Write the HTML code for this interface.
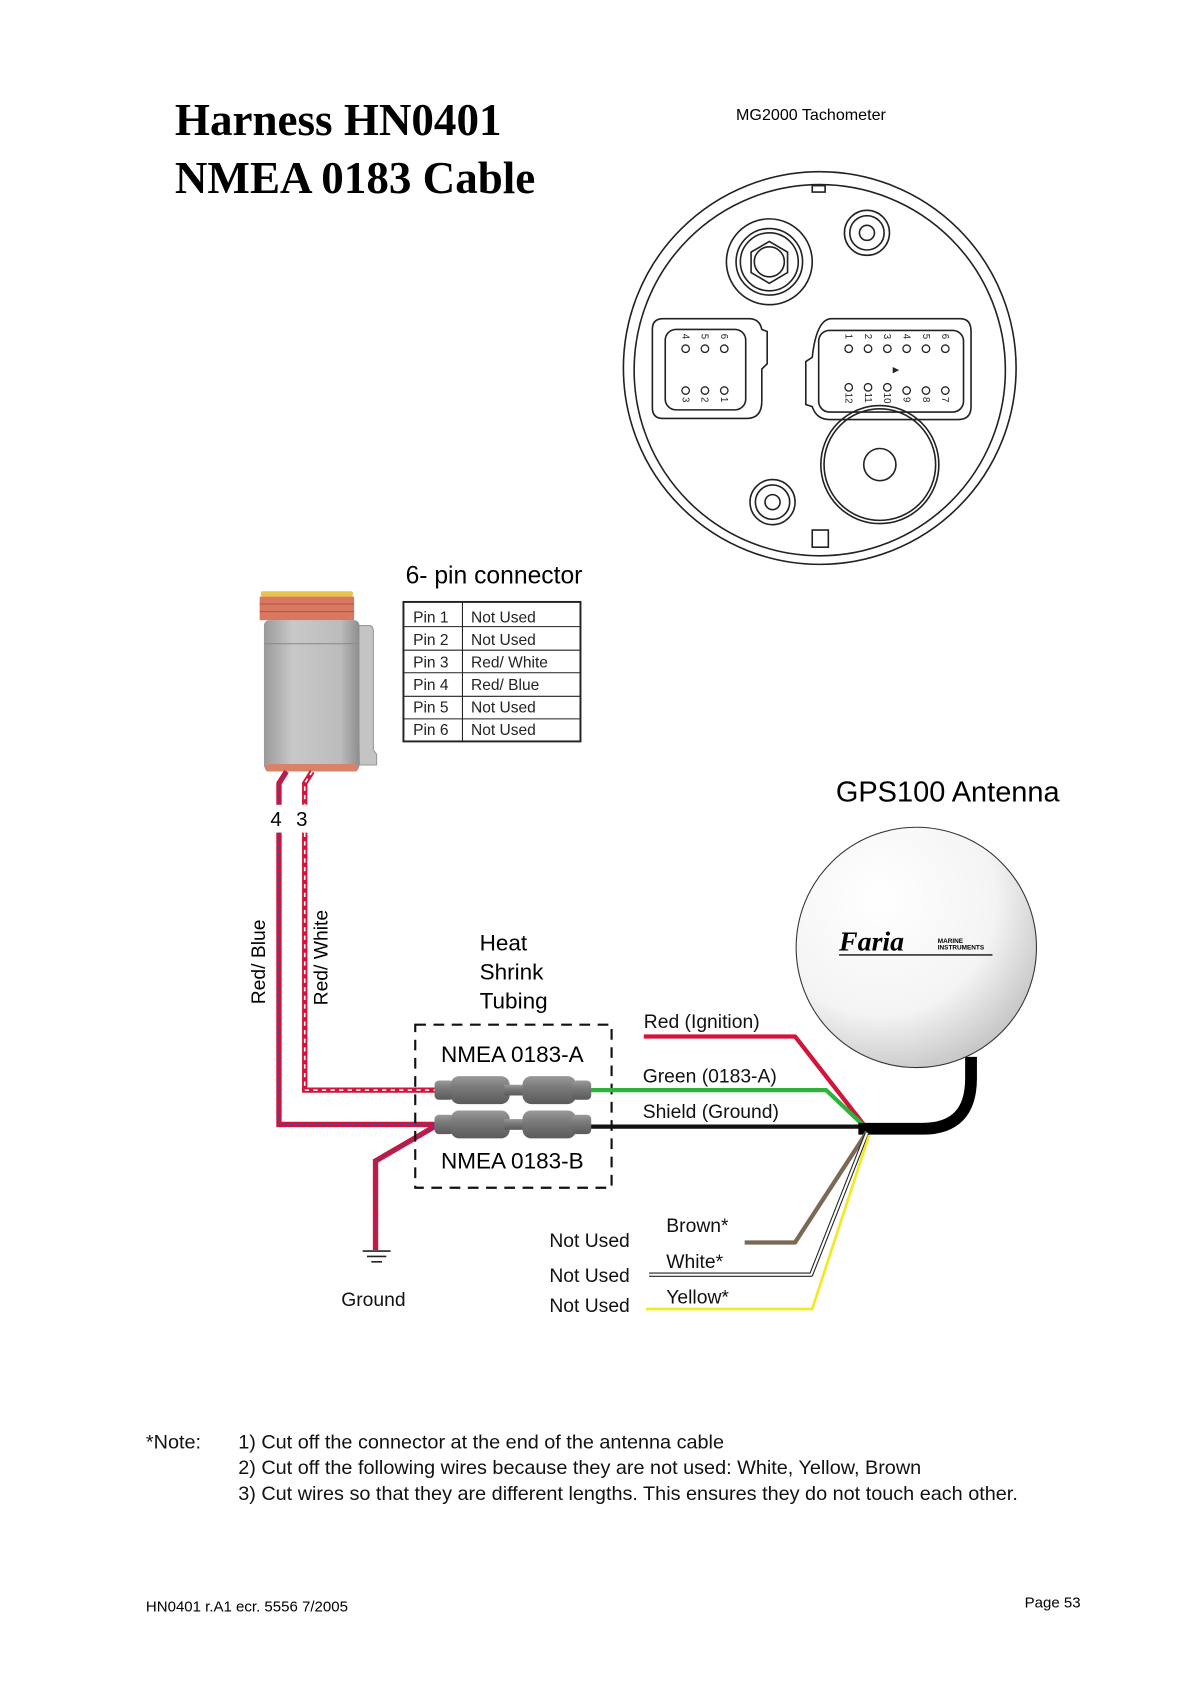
<!DOCTYPE html>
<html><head><meta charset="utf-8"><style>html,body{margin:0;padding:0;background:#fff}svg{display:block}</style></head><body>
<svg width="1191" height="1684" viewBox="0 0 1110 1569.5" xmlns="http://www.w3.org/2000/svg" font-family="Liberation Sans, sans-serif">
<defs>
<radialGradient id="sph" cx="0.35" cy="0.3" r="0.8"><stop offset="0" stop-color="#fff"/><stop offset="0.6" stop-color="#f4f4f4"/><stop offset="1" stop-color="#bdbdbd"/></radialGradient>
<linearGradient id="body" x1="0" x2="1"><stop offset="0" stop-color="#9a9a9a"/><stop offset="0.3" stop-color="#c8c8c8"/><stop offset="0.8" stop-color="#bcbcbc"/><stop offset="1" stop-color="#8e8e8e"/></linearGradient>
<linearGradient id="butt" x1="0" y1="0" x2="0" y2="1"><stop offset="0" stop-color="#9a9a9a"/><stop offset="0.4" stop-color="#7a7a7a"/><stop offset="1" stop-color="#5a5a5a"/></linearGradient>
</defs>
<text x="163" y="126" font-family="Liberation Serif, serif" font-weight="bold" font-size="42">Harness HN0401</text>
<text x="163" y="180" font-family="Liberation Serif, serif" font-weight="bold" font-size="42">NMEA 0183 Cable</text>
<text x="686" y="112" font-size="15">MG2000 Tachometer</text>
<g fill="none" stroke="#222" stroke-width="1.5">
<circle cx="764" cy="343" r="183"/><circle cx="764" cy="345" r="173"/>
<rect x="757" y="173" width="12" height="6"/><rect x="757" y="494" width="15" height="16"/>
<circle cx="717" cy="244" r="40"/><circle cx="717" cy="244" r="31"/><circle cx="717" cy="244" r="27"/>
<polygon points="717,225 734,235 734,254 717,264 700,254 700,235"/><circle cx="717" cy="244" r="14"/>
<circle cx="808" cy="217" r="21"/><circle cx="808" cy="217" r="16"/><circle cx="808" cy="217" r="7"/>
<circle cx="720" cy="468" r="21"/><circle cx="720" cy="468" r="16"/><circle cx="720" cy="468" r="7"/>
<circle cx="820" cy="433" r="55"/><circle cx="820" cy="433" r="52"/><circle cx="820" cy="433" r="15"/>
<path d="M618,297 h80 q10,0 12,10 l5,2 v30 l-5,5 v30 q0,16 -14,16 h-78 q-10,0 -10,-10 v-73 q0,-10 10,-10z"/>
<rect x="620" y="307" width="75" height="75" rx="10"/>
<path d="M775,297 h120 q10,0 10,12 v70 q0,12 -12,12 h-120 q-12,0 -16,-12 l-6,-2 v-40 l6,-4 q4,-36 18,-36z"/>
<rect x="763" y="308" width="135" height="76" rx="10"/>
</g>
<g font-size="9" fill="#222">
<g fill="none" stroke="#222" stroke-width="1.2">
<circle cx="639" cy="325" r="3.5"/><circle cx="657" cy="325" r="3.5"/><circle cx="675" cy="325" r="3.5"/>
<circle cx="639" cy="364" r="3.5"/><circle cx="657" cy="364" r="3.5"/><circle cx="675" cy="364" r="3.5"/>
<circle cx="791" cy="325" r="3.5"/><circle cx="809" cy="325" r="3.5"/><circle cx="827" cy="325" r="3.5"/><circle cx="845" cy="325" r="3.5"/><circle cx="863" cy="325" r="3.5"/><circle cx="881" cy="325" r="3.5"/>
<circle cx="791" cy="361" r="3.5"/><circle cx="809" cy="361" r="3.5"/><circle cx="827" cy="361" r="3.5"/><circle cx="845" cy="364" r="3.5"/><circle cx="863" cy="364" r="3.5"/><circle cx="881" cy="364" r="3.5"/>
</g>
<text transform="translate(636,311) rotate(90)">4</text><text transform="translate(654,311) rotate(90)">5</text><text transform="translate(672,311) rotate(90)">6</text>
<text transform="translate(636,370) rotate(90)">3</text><text transform="translate(654,370) rotate(90)">2</text><text transform="translate(672,370) rotate(90)">1</text>
<text transform="translate(788,311) rotate(90)">1</text><text transform="translate(806,311) rotate(90)">2</text><text transform="translate(824,311) rotate(90)">3</text><text transform="translate(842,311) rotate(90)">4</text><text transform="translate(860,311) rotate(90)">5</text><text transform="translate(878,311) rotate(90)">6</text>
<text transform="translate(788,366) rotate(90)">12</text><text transform="translate(806,366) rotate(90)">11</text><text transform="translate(824,366) rotate(90)">10</text><text transform="translate(842,370) rotate(90)">9</text><text transform="translate(860,370) rotate(90)">8</text><text transform="translate(878,370) rotate(90)">7</text>
<polygon points="832,342 838,345 832,348"/>
</g>
<text x="378" y="544" font-size="23">6- pin connector</text>
<g stroke="#222" fill="none"><rect x="376" y="561" width="165" height="130" stroke-width="1.8"/><line x1="431" y1="561" x2="431" y2="691"/>
<line x1="376" y1="584" x2="541" y2="584"/><line x1="376" y1="606" x2="541" y2="606"/><line x1="376" y1="627" x2="541" y2="627"/><line x1="376" y1="649" x2="541" y2="649"/><line x1="376" y1="670" x2="541" y2="670"/></g>
<g font-size="14.5" fill="#222">
<text x="385" y="580">Pin 1</text><text x="439" y="580">Not Used</text>
<text x="385" y="601">Pin 2</text><text x="439" y="601">Not Used</text>
<text x="385" y="622">Pin 3</text><text x="439" y="622">Red/ White</text>
<text x="385" y="643">Pin 4</text><text x="439" y="643">Red/ Blue</text>
<text x="385" y="664">Pin 5</text><text x="439" y="664">Not Used</text>
<text x="385" y="685">Pin 6</text><text x="439" y="685">Not Used</text>
</g>
<path d="M332,583 h12 q4,0 4,6 v110 l3,4 v10 h-16z" fill="#c4c4c4" stroke="#999"/>
<rect x="246" y="578" width="89" height="140" rx="5" fill="url(#body)"/>
<line x1="246" y1="600" x2="335" y2="600" stroke="#888"/>
<rect x="247" y="712" width="87" height="7" rx="3" fill="#d9826a"/>
<rect x="243" y="551" width="86" height="5" rx="2" fill="#e6c34a"/>
<rect x="242" y="556" width="88" height="22" fill="#d97760"/>
<line x1="242" y1="563" x2="330" y2="563" stroke="#b05a48"/><line x1="242" y1="570" x2="330" y2="570" stroke="#b05a48"/>
<g fill="none" stroke-width="5">
<path d="M267,719 L260,730 V750 M260,776 V1048 H405" stroke="#d2143a"/>
<path d="M267,719 L260,730 V750 M260,776 V1048 H405" stroke="#3a4aa8" stroke-width="1.5" stroke-dasharray="3,3"/>
<path d="M291,719 L284,730 V750 M284,776 V1016 H405" stroke="#d2143a"/>
<path d="M291,719 L284,730 V750 M284,776 V1016 H405" stroke="#fff" stroke-width="1.5" stroke-dasharray="4,4"/>
<path d="M405,1050 L350,1082 V1165" stroke="#d2143a"/>
<path d="M405,1050 L350,1082 V1165" stroke="#3a4aa8" stroke-width="1.5" stroke-dasharray="3,3"/>
</g>
<g stroke="#222" stroke-width="1.5"><line x1="338" y1="1166" x2="364" y2="1166"/><line x1="342" y1="1171" x2="360" y2="1171"/><line x1="346" y1="1176" x2="356" y2="1176"/></g>
<text x="252" y="770" font-size="19">4</text><text x="276" y="770" font-size="19">3</text>
<text transform="translate(247,936) rotate(-90)" font-size="18">Red/ Blue</text>
<text transform="translate(305,937) rotate(-90)" font-size="18">Red/ White</text>
<g font-size="21"><text x="447" y="886">Heat</text><text x="447" y="913">Shrink</text><text x="447" y="940">Tubing</text></g>
<rect x="387" y="955" width="183" height="152" fill="none" stroke="#111" stroke-width="2" stroke-dasharray="10,7"/>
<text x="411" y="990" font-size="21">NMEA 0183-A</text><text x="411" y="1089" font-size="21">NMEA 0183-B</text>
<g fill="none" stroke-linejoin="round">
<path d="M600,966 H741 L808,1052" stroke="#d2143a" stroke-width="4"/>
<path d="M550,1016 H770 L808,1052" stroke="#2db33a" stroke-width="4"/>
<path d="M550,1050 H805" stroke="#111" stroke-width="4"/>
<path d="M800,1052 H860 Q905,1052 905,1005 V985" stroke="#000" stroke-width="11"/>
<path d="M808,1055 L741,1158 H694" stroke="#7a6a55" stroke-width="4"/>
<path d="M808,1056 L756,1188 H605" stroke="#222" stroke-width="4"/>
<path d="M808,1056 L756,1188 H605" stroke="#fff" stroke-width="2"/>
<path d="M810,1058 L757,1220 H602" stroke="#f0ea20" stroke-width="2.5"/>
</g>
<g fill="url(#butt)">
<rect x="405" y="1007" width="18" height="18" rx="4"/><rect x="420" y="1003" width="55" height="26" rx="8"/><rect x="470" y="1011" width="20" height="10"/><rect x="487" y="1003" width="50" height="26" rx="8"/><rect x="533" y="1007" width="18" height="18" rx="4"/>
<rect x="405" y="1039" width="18" height="18" rx="4"/><rect x="420" y="1035" width="55" height="26" rx="8"/><rect x="470" y="1043" width="20" height="10"/><rect x="487" y="1035" width="50" height="26" rx="8"/><rect x="533" y="1039" width="18" height="18" rx="4"/>
</g>
<g font-size="18" fill="#111">
<text x="600" y="958">Red (Ignition)</text><text x="599" y="1009">Green (0183-A)</text><text x="599" y="1042">Shield (Ground)</text>
<text x="621" y="1148">Brown*</text><text x="621" y="1182">White*</text><text x="621" y="1215">Yellow*</text>
<text x="512" y="1162">Not Used</text><text x="512" y="1195">Not Used</text><text x="512" y="1223">Not Used</text>
<text x="318" y="1217">Ground</text>
</g>
<text x="779" y="747" font-size="27">GPS100 Antenna</text>
<circle cx="854" cy="883" r="112" fill="url(#sph)" stroke="#333" stroke-width="1"/>
<text x="782" y="886" font-family="Liberation Serif, serif" font-style="italic" font-weight="bold" font-size="26">Faria</text>
<text x="874" y="879" font-size="6" font-weight="bold">MARINE</text><text x="874" y="885" font-size="6" font-weight="bold">INSTRUMENTS</text>
<line x1="782" y1="890" x2="925" y2="890" stroke="#111" stroke-width="1.2"/>
<g font-size="18.5" fill="#111">
<text x="136" y="1350">*Note:</text>
<text x="222" y="1350">1) Cut off the connector at the end of the antenna cable</text>
<text x="222" y="1374">2) Cut off the following wires because they are not used: White, Yellow, Brown</text>
<text x="222" y="1398">3) Cut wires so that they are different lengths. This ensures they do not touch each other.</text>
</g>
<text x="136" y="1502" font-size="14">HN0401 r.A1 ecr. 5556 7/2005</text>
<text x="955" y="1498" font-size="14">Page 53</text>
</svg>
</body></html>
